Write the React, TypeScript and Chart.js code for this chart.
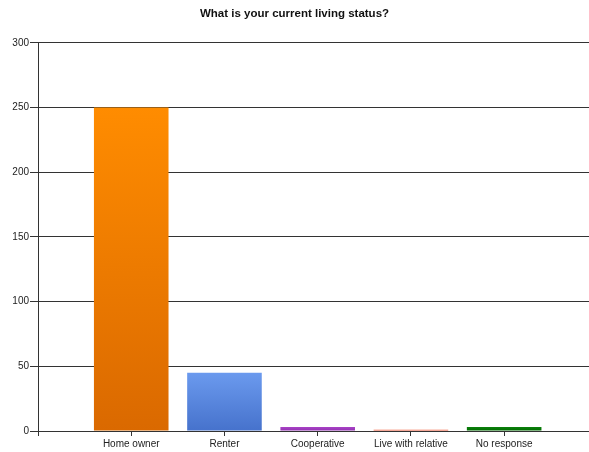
import React, { useEffect, useRef } from "react";
import { Chart, registerables } from "chart.js";

Chart.register(...registerables);

const titleText = "What is your current living status?";
const categories = ["Home owner", "Renter", "Cooperative", "Live with relative", "No response"];
const values = [250, 45, 3, 1, 3];
const topColors = ["#FF8C00", "#6B9AEE", "#A842C6", "#F25A38", "#0B800B"];
const bottomColors = ["#DA6900", "#4672CC", "#9030B0", "#E24A2A", "#006A00"];
const yTicks = [0, 50, 100, 150, 200, 250, 300];

const FONT = "'Liberation Sans', Arial, sans-serif";

export default function App() {
  const ref = useRef<HTMLCanvasElement | null>(null);

  useEffect(() => {
    if (!ref.current) return;
    const chart = new Chart(ref.current, {
      type: "bar",
      data: {
        datasets: [
          {
            data: categories.map((c, i) => ({ x: i + 1, y: values[i] })),
            backgroundColor: (ctx: any) => {
              const i = ctx.dataIndex;
              const chartObj = ctx.chart;
              const ys = chartObj.scales && chartObj.scales.y;
              if (!chartObj.chartArea || !ys || i === undefined) return topColors[i ?? 0];
              const top = ys.getPixelForValue(values[i]);
              const bottom = ys.getPixelForValue(0);
              if (!isFinite(top) || !isFinite(bottom) || bottom - top < 0.5) return topColors[i];
              const g = chartObj.ctx.createLinearGradient(0, top, 0, bottom);
              g.addColorStop(0, topColors[i]);
              g.addColorStop(1, bottomColors[i]);
              return g;
            },
            borderWidth: 0,
            categoryPercentage: 1,
            barPercentage: 0.8,
          },
        ],
      },
      options: {
        animation: false,
        responsive: false,
        maintainAspectRatio: false,
        layout: { padding: 0 },
        plugins: {
          legend: { display: false },
          tooltip: { enabled: false },
          title: {
            display: true,
            text: titleText,
            color: "#111",
            font: { family: FONT, size: 11.5, weight: "bold" },
            padding: { top: 7, bottom: 22 },
          },
        },
        scales: {
          x: {
            type: "linear",
            offset: false,
            min: 0,
            max: 5.91,
            afterBuildTicks: (scale: any) => {
              scale.ticks = [0, 1, 2, 3, 4, 5].map((v) => ({ value: v }));
            },
            afterFit: (scale: any) => {
              scale.height = 21;
            },
            grid: {
              offset: false,
              drawOnChartArea: false,
              drawTicks: true,
              tickLength: 5,
              color: "#333",
            },
            border: { display: true, color: "#333" },
            ticks: {
              autoSkip: false,
              maxRotation: 0,
              padding: 2,
              color: "#222",
              font: { family: FONT, size: 10 },
              callback: (v: any) => (v >= 1 && v <= categories.length ? categories[v - 1] : ""),
            },
          },
          y: {
            min: 0,
            max: 300,
            afterBuildTicks: (scale: any) => {
              scale.ticks = yTicks.map((v) => ({ value: v }));
            },
            afterFit: (scale: any) => {
              scale.width = 38;
            },
            grid: {
              color: "#333",
              lineWidth: 1,
              tickLength: 8,
            },
            border: { display: true, color: "#333" },
            ticks: {
              padding: 1,
              color: "#222",
              font: { family: FONT, size: 10 },
            },
          },
        },
      },
    } as any);
    return () => chart.destroy();
  }, []);

  return (
    <div style={{ position: "absolute", left: 0, top: 0, width: 589, height: 452, background: "#fff" }}>
      <canvas ref={ref} width={589} height={452} style={{ display: "block" }} />
    </div>
  );
}
